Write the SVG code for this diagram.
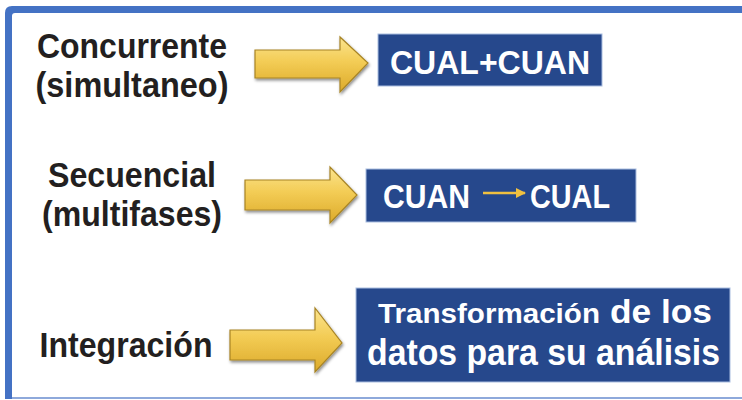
<svg xmlns="http://www.w3.org/2000/svg" width="742" height="400" viewBox="0 0 742 400">
<defs>
<linearGradient id="gold" x1="0" y1="0" x2="0" y2="1">
<stop offset="0" stop-color="#fbe48e"/>
<stop offset="0.45" stop-color="#f3cc55"/>
<stop offset="1" stop-color="#dcaa2a"/>
</linearGradient>
<filter id="sh" x="-20%" y="-20%" width="140%" height="150%">
<feDropShadow dx="1" dy="2" stdDeviation="1.5" flood-color="#000" flood-opacity="0.45"/>
</filter>
<marker id="sm" viewBox="0 0 10 10" refX="9" refY="5" markerWidth="4" markerHeight="4" orient="auto">
<path d="M0,0 L10,5 L0,10 z" fill="#f0c040"/>
</marker>
</defs>
<style>
.lbl{font-family:"Liberation Sans",Arial,sans-serif;font-weight:bold;fill:#231f20;text-anchor:middle}
.bx{fill:#26488c;stroke:#a9bde0;stroke-width:1}
.bt{font-family:"Liberation Sans",Arial,sans-serif;font-weight:bold;fill:#ffffff}
.arr{fill:url(#gold);stroke:#a88424;stroke-width:1.2;filter:url(#sh)}
</style>
<rect width="742" height="400" fill="#ffffff"/>
<g id="frame">
<path d="M12,399 V16 Q12,13 15,13 H742 V6 H12 Q5,6 5,13 V399 Z" fill="#4472c4"/>
<line x1="12" y1="398" x2="742" y2="398" stroke="#8ea9db" stroke-width="2"/>
</g>
<g id="concurrente">
<text class="lbl" x="132" y="58" font-size="35" textLength="190" lengthAdjust="spacingAndGlyphs">Concurrente</text>
<text class="lbl" x="132" y="97" font-size="35" textLength="193" lengthAdjust="spacingAndGlyphs">(simultaneo)</text>
</g>
<g id="secuencial">
<text class="lbl" x="132" y="187" font-size="35" textLength="168" lengthAdjust="spacingAndGlyphs">Secuencial</text>
<text class="lbl" x="132" y="226" font-size="35" textLength="180" lengthAdjust="spacingAndGlyphs">(multifases)</text>
</g>
<g id="integracion">
<text class="lbl" x="126" y="357" font-size="35" textLength="173" lengthAdjust="spacingAndGlyphs">Integración</text>
</g>
<g id="connectors">
<path class="arr" d="M255,50 H340 V37 L368,63 L340,92 V78 H255 Z"/>
<path class="arr" d="M245,180 H330 V167 L357,195 L330,223 V210 H245 Z"/>
<path class="arr" d="M230,330 H315 V308 L342,343 L315,372 V360 H230 Z"/>
</g>
<g id="box1">
<rect class="bx" x="378" y="34" width="224" height="52"/>
<text class="bt" x="390" y="74" font-size="34" textLength="200" lengthAdjust="spacingAndGlyphs">CUAL+CUAN</text>
</g>
<g id="box2">
<rect class="bx" x="366" y="169" width="270" height="53"/>
<text class="bt" x="383" y="208" font-size="34" textLength="87" lengthAdjust="spacingAndGlyphs">CUAN</text>
<line x1="483" y1="193" x2="525" y2="193" stroke="#f0c040" stroke-width="2.5" marker-end="url(#sm)"/>
<text class="bt" x="530" y="208" font-size="34" textLength="80" lengthAdjust="spacingAndGlyphs">CUAL</text>
</g>
<g id="box3">
<rect class="bx" x="356" y="288" width="374" height="94"/>
<text class="bt" x="378" y="323" font-size="27" textLength="222" lengthAdjust="spacingAndGlyphs">Transformación</text>
<text class="bt" x="610" y="323" font-size="33" textLength="102" lengthAdjust="spacingAndGlyphs">de los</text>
<text class="bt" x="367" y="365" font-size="36" textLength="353" lengthAdjust="spacingAndGlyphs">datos para su análisis</text>
</g>
</svg>
